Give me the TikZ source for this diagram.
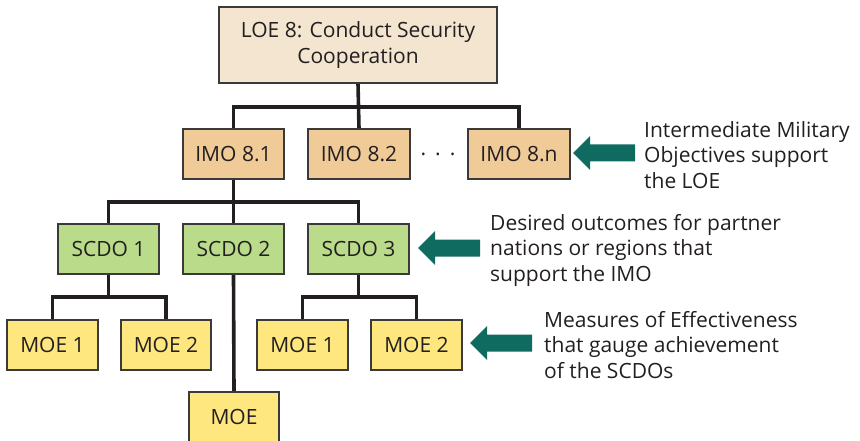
\documentclass[tikz,border=0pt]{standalone}
\usepackage{fontspec}
\setmainfont{Open Sans}
\definecolor{loefill}{HTML}{F3E5CF}
\definecolor{imofill}{HTML}{F0CB98}
\definecolor{scdofill}{HTML}{B9DB8A}
\definecolor{moefill}{HTML}{FFE77F}
\definecolor{teal}{HTML}{0F6B5F}
\definecolor{edge}{HTML}{3A3A3A}
\definecolor{ink}{HTML}{231F20}
\begin{document}
\begin{tikzpicture}[x=1pt,y=-1pt,
  font=\fontsize{21}{25.5}\selectfont,
  box/.style={draw=edge,line width=1.2pt,rectangle,inner sep=0pt,text=ink,align=center,minimum height=50pt},
  loebox/.style={box,fill=loefill,minimum width=278pt,minimum height=76pt},
  imobox/.style={box,fill=imofill,minimum width=101pt},
  scdobox/.style={box,fill=scdofill,minimum width=101pt},
  moebox/.style={box,fill=moefill,minimum width=91pt},
  conn/.style={draw=ink,line width=3.6pt},
  note/.style={anchor=west,align=left,inner sep=0pt,text=ink},
  bigarrow/.pic={\fill[teal] (0,0) -- (17,-17) -- (17,-8.5) -- (62,-8.5) -- (62,8.5) -- (17,8.5) -- (17,17) -- cycle;}
]
\useasboundingbox (0,0) rectangle (860,441);
\coordinate (bar1) at (0,107);
\coordinate (bar2) at (0,202);
\coordinate (bar3) at (0,297);
% boxes
\node[loebox] (loe) at (358,45) {LOE 8: Conduct Security\\Cooperation};
\node[imobox] (imo1) at (233.5,154) {IMO 8.1};
\node[imobox] (imo2) at (359,154) {IMO 8.2};
\node[imobox,minimum width=102pt] (imon) at (519,154) {IMO 8.n};
\node[text=ink,inner sep=0pt] (dots) at (438,154) {.\hspace{9pt}.\hspace{9pt}.};
\node[scdobox] (scdo1) at (108.5,249) {SCDO 1};
\node[scdobox] (scdo2) at (233.5,249) {SCDO 2};
\node[scdobox] (scdo3) at (358.5,249) {SCDO 3};
\node[moebox] (moe1) at (52.5,345) {MOE 1};
\node[moebox,minimum width=90pt] (moe2) at (166,345) {MOE 2};
\node[moebox] (moe3) at (302.5,345) {MOE 1};
\node[moebox] (moe4) at (416.5,345) {MOE 2};
\node[moebox,minimum width=90pt] (moe5) at (234,417) {MOE};
% connectors
\draw[conn] (loe.south) -- (imo2.north);
\draw[conn] (imo1.north) |- (imon.north |- bar1) -- (imon.north);
\draw[conn] (imo1.south) -- (scdo2.north);
\draw[conn] (scdo1.north) |- (scdo3.north |- bar2) -- (scdo3.north);
\draw[conn] (scdo2.south) -- (moe5.north);
\draw[conn] (scdo1.south) -- (scdo1.south |- bar3);
\draw[conn] (moe1.north) |- (moe2.north |- bar3) -- (moe2.north);
\draw[conn] (scdo3.south) -- (scdo3.south |- bar3);
\draw[conn] (moe3.north) |- (moe4.north |- bar3) -- (moe4.north);
% box outlines on top of connector ends
\foreach \n in {loe,imo1,imo2,imon,scdo1,scdo2,scdo3,moe1,moe2,moe3,moe4,moe5}{
  \draw[edge,line width=1.2pt] (\n.north west) rectangle (\n.south east);
}
% arrows
\pic at (573,153) {bigarrow};
\pic at (418,248) {bigarrow};
\pic at (470,343) {bigarrow};
% notes
\node[note] (n1) at (644,155) {Intermediate Military\\Objectives support\\the LOE};
\node[note] (n2) at (490,250) {Desired outcomes for partner\\nations or regions that\\support the IMO};
\node[note] (n3) at (544,345) {Measures of Effectiveness\\that gauge achievement\\of the SCDOs};
\end{tikzpicture}
\end{document}
